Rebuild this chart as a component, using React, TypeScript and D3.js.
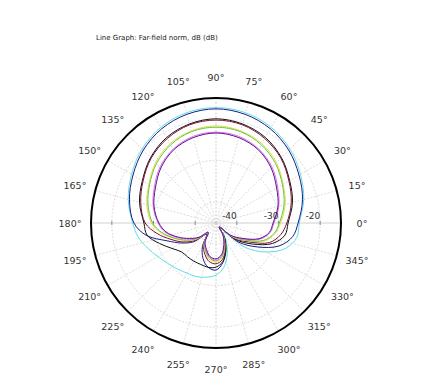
import React from "react";
import * as d3 from "d3";

const W = 432;
const H = 376;

const title = "Line Graph: Far-field norm, dB (dB)";

// angles (degrees, counter-clockwise from +x)
const angles = [0, 15, 30, 45, 60, 75, 90, 105, 120, 135, 150, 165, 180, 190, 200, 210, 220, 230, 240, 250, 260, 270, 280, 290, 300, 310, 320, 330, 340, 350];

// series values in dB
const cyanDb = [-25.0, -23.2, -21.6, -19.9, -18.5, -17.6, -17.3, -17.6, -18.5, -19.9, -21.6, -23.2, -25.0, -26.0, -27.5, -28.9, -29.9, -30.6, -31.1, -31.3, -31.8, -32.5, -34.2, -37.1, -40.2, -42.1, -35.9, -31.1, -27.2, -25.3];
const navyDb = [-25.3, -23.5, -22.0, -20.3, -18.9, -18.0, -17.6, -18.0, -18.9, -20.3, -22.0, -23.5, -25.3, -28.0, -32.5, -35.4, -38.0, -41.4, -38.5, -35.9, -34.2, -33.7, -35.4, -38.3, -40.9, -43.3, -37.8, -33.5, -28.9, -26.3];
const blackDb = [-27.7, -26.0, -24.6, -22.8, -21.3, -20.4, -20.0, -20.4, -21.3, -22.8, -24.6, -26.0, -27.7, -28.2, -30.6, -32.8, -34.2, -34.4, -34.4, -34.4, -34.2, -34.4, -35.6, -38.0, -40.9, -43.6, -38.8, -34.9, -30.6, -28.2];
const maroonDb = [-28.0, -26.3, -24.8, -23.0, -21.6, -20.6, -20.3, -20.6, -21.6, -23.0, -24.8, -26.3, -28.0, -30.6, -33.5, -35.9, -38.5, -41.6, -39.0, -37.1, -35.6, -35.2, -36.1, -38.5, -41.2, -43.6, -39.2, -35.9, -31.3, -29.2];
const yellowDb = [-29.5, -27.8, -26.4, -24.5, -23.0, -22.1, -21.7, -22.1, -23.0, -24.5, -26.4, -27.8, -29.5, -31.6, -34.2, -36.6, -39.0, -41.9, -39.2, -37.6, -36.1, -35.6, -36.6, -38.8, -41.4, -43.6, -39.7, -36.6, -32.5, -30.6];
const greenDb = [-29.8, -28.1, -26.6, -24.8, -23.3, -22.3, -22.0, -22.3, -23.3, -24.8, -26.6, -28.1, -29.8, -31.8, -34.4, -36.8, -39.2, -41.9, -39.5, -37.8, -36.4, -35.9, -36.8, -39.0, -41.4, -43.6, -40.0, -36.8, -32.8, -30.8];
const magentaDb = [-31.1, -29.4, -27.9, -26.0, -24.5, -23.5, -23.2, -23.5, -24.5, -26.0, -27.9, -29.4, -31.1, -32.5, -34.9, -37.3, -39.5, -42.1, -39.7, -38.0, -36.6, -36.1, -37.1, -39.2, -41.6, -43.8, -40.2, -37.3, -33.7, -31.8];
const purpleDb = [-31.3, -29.6, -28.2, -26.3, -24.7, -23.8, -23.4, -23.8, -24.7, -26.3, -28.2, -29.6, -31.3, -32.8, -35.2, -37.6, -39.7, -42.1, -39.7, -38.3, -36.8, -36.4, -37.3, -39.5, -41.6, -43.8, -40.4, -37.6, -34.0, -32.0];

const seriesNames = ["cyan", "navy", "black", "maroon", "yellow", "green", "magenta", "purple"];
const seriesValues = [cyanDb, navyDb, blackDb, maroonDb, yellowDb, greenDb, magentaDb, purpleDb];
const seriesColors = ["#5fdde6", "#1c1c8e", "#111111", "#7a1030", "#e2e03c", "#6cc04c", "#e070e0", "#5a1090"];

const radialTicks = [-40, -30, -20];
const angleTicks = d3.range(0, 360, 15);

const cx = 216;
const cy = 223;
const R = 125;

export default function App() {
  const r = d3.scaleLinear().domain([-45, -15]).range([0, R]);
  const toRad = (deg: number) => Math.PI / 2 - (deg * Math.PI) / 180;

  const line = d3
    .lineRadial<[number, number]>()
    .angle((d) => toRad(d[0]))
    .radius((d) => r(d[1]))
    .curve(d3.curveCatmullRomClosed.alpha(0.5));

  const labelR = 146;

  return (
    <svg
      width={W}
      height={H}
      style={{ position: "absolute", left: 0, top: 0, background: "#fff" }}
      fontFamily="DejaVu Sans, sans-serif"
    >
      <text x={96} y={40} fontSize={7} fill="#222">
        {title}
      </text>
      <g transform={`translate(${cx},${cy})`}>
        {angleTicks.map((a) => {
          const t = (a * Math.PI) / 180;
          return (
            <line
              key={"s" + a}
              x1={0}
              y1={0}
              x2={R * Math.cos(t)}
              y2={-R * Math.sin(t)}
              stroke={a % 90 === 0 ? "#c4c4c4" : "#d2d2d2"}
              strokeWidth={0.8}
              strokeDasharray={a % 180 === 0 ? undefined : "2,1.5"}
            />
          );
        })}
        {radialTicks.map((v) => (
          <circle
            key={"c" + v}
            r={r(v)}
            fill="none"
            stroke="#d2d2d2"
            strokeWidth={0.8}
            strokeDasharray="2,1.5"
          />
        ))}
        {radialTicks.map((v) => (
          <g key={"t" + v}>
            <line x1={r(v)} x2={r(v)} y1={-2} y2={2} stroke="#777" strokeWidth={0.8} />
            <line x1={-r(v)} x2={-r(v)} y1={-2} y2={2} stroke="#777" strokeWidth={0.8} />
          </g>
        ))}
        {seriesValues.map((vals, i) => (
          <path
            key={seriesNames[i]}
            d={line(angles.map((a, j) => [a, vals[j]] as [number, number])) || ""}
            fill="none"
            stroke={seriesColors[i]}
            strokeWidth={1}
          />
        ))}
        <circle r={R} fill="none" stroke="#000" strokeWidth={2} />
        {radialTicks.map((v) => (
          <text
            key={"rl" + v}
            x={r(v)}
            y={-4}
            textAnchor="end"
            fontSize={9}
            fill="#333"
          >
            {v}
          </text>
        ))}
        {angleTicks.map((a) => {
          const t = (a * Math.PI) / 180;
          return (
            <text
              key={"al" + a}
              x={labelR * Math.cos(t)}
              y={-labelR * Math.sin(t)}
              textAnchor="middle"
              dominantBaseline="central"
              fontSize={9.5}
              fill="#333"
            >
              {a + "°"}
            </text>
          );
        })}
      </g>
    </svg>
  );
}
